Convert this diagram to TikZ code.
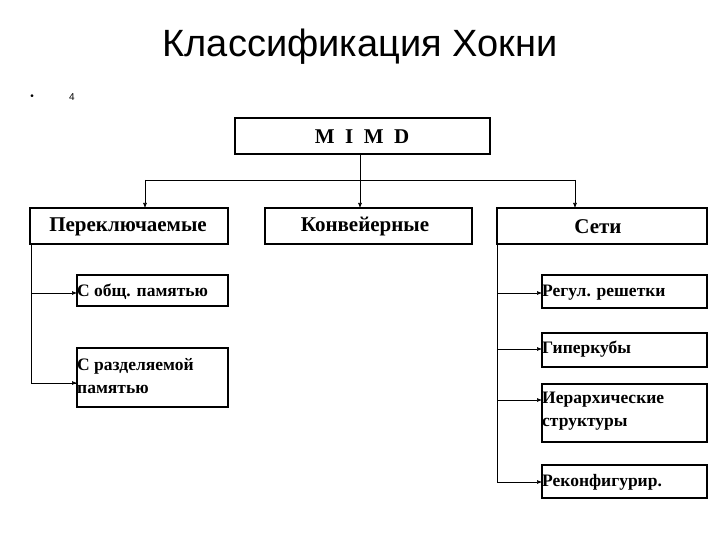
\documentclass[tikz,border=0pt]{standalone}
\usepackage{fontspec}
\setmainfont{Liberation Serif}
\newfontfamily\titlefont{Liberation Sans}
\usetikzlibrary{arrows.meta}
\begin{document}
\begin{tikzpicture}[x=1pt,y=-1pt,
  bx/.style={draw,line width=1.2pt},
  big/.style={font=\bfseries\fontsize{21}{24}\selectfont,inner sep=0pt},
  sm/.style={font=\bfseries\fontsize{17.5}{23}\selectfont,align=left,anchor=west,inner sep=0pt},
  arr/.style={-{Latex[length=5pt,width=4pt]},line width=0.6pt}]
\useasboundingbox (0,0) rectangle (720,540);
\node[font=\titlefont\fontsize{38}{42}\selectfont] (title) at (360,47) {Классификация Хокни};
\node[font=\titlefont\fontsize{10}{12}\selectfont] (bul) at (32,97) {•};
\node[font=\titlefont\fontsize{10}{12}\selectfont] (num) at (72,97) {4};
% boxes
\draw[bx] (235,118) rectangle (490,154);
\node[big] (mimd) at (362,137) {M\ \ I\ \ M\ \ D};
\coordinate (mimdB) at (360,154);
\draw[bx] (30,208) rectangle (228,244);
\node[big] (p) at (128,227) {Переключаемые};
\draw[bx] (265,208) rectangle (472,244);
\node[big] (k) at (365,227) {Конвейерные};
\draw[bx] (497,208) rectangle (707,244);
\node[big] (s) at (598,227) {Сети};
\draw[bx] (77,275) rectangle (228,306);
\node[sm] (p1) at (77,292) {С общ. памятью};
\draw[bx] (77,348) rectangle (228,407);
\node[sm] (p2) at (77,376) {С разделяемой\\памятью};
\draw[bx] (542,275) rectangle (707,308);
\node[sm] (s1) at (542,293) {Регул. решетки};
\draw[bx] (542,333) rectangle (707,367);
\node[sm] (s2) at (542,349) {Гиперкубы};
\draw[bx] (542,384) rectangle (707,442);
\node[sm] (s3) at (542,411) {Иерархические\\структуры};
\draw[bx] (542,465) rectangle (707,498);
\node[sm] (s4) at (542,482) {Реконфигурир.};
% connectors
\coordinate (bL) at (145,180); \coordinate (bR) at (575,180); \coordinate (bC) at (360,180);
\draw[line width=0.6pt] (mimdB) -- (bC);
\draw[line width=0.6pt] (bL) -- (bR);
\draw[arr] (bL) -- (145,208);
\draw[arr] (bC) -- (360,208);
\draw[arr] (bR) -- (575,208);
\draw[line width=0.6pt] (31,244) |- (77,383);
\draw[arr] (31,293) -- (77,293);
\draw[arr] (31,383) -- (77,383);
\draw[line width=0.6pt] (497,244) -- (497,482);
\draw[arr] (497,293) -- (542,293);
\draw[arr] (497,349) -- (542,349);
\draw[arr] (497,400) -- (542,400);
\draw[arr] (497,482) -- (542,482);
\end{tikzpicture}
\end{document}
